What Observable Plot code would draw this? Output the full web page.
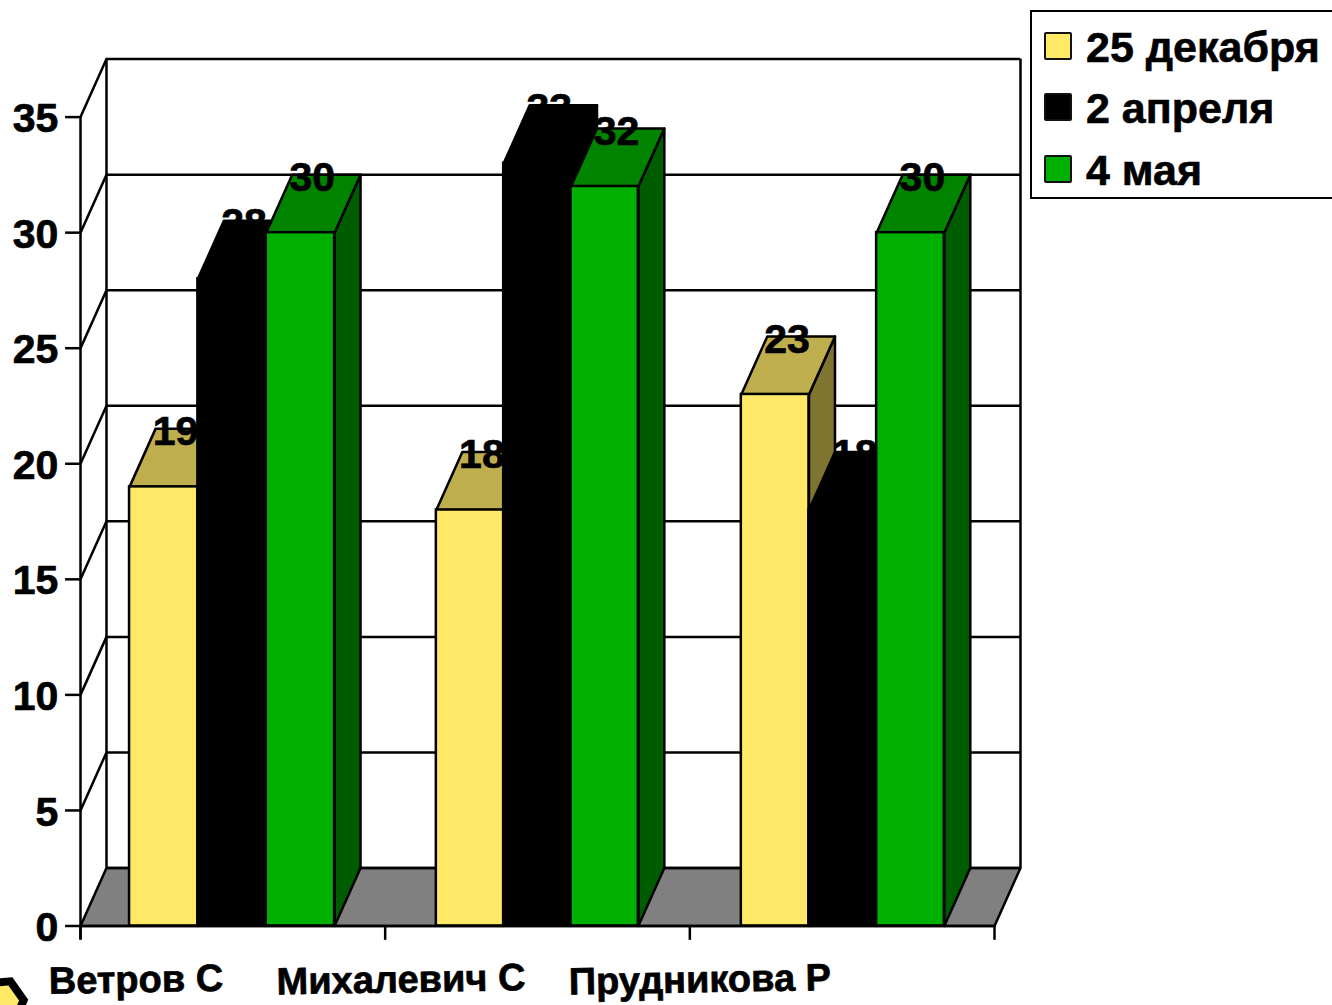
<!DOCTYPE html>
<html lang="ru"><head><meta charset="utf-8">
<script src="https://cdn.jsdelivr.net/npm/d3@7"></script>
<script src="https://cdn.jsdelivr.net/npm/@observablehq/plot@0.6"></script>
<style>
html,body{margin:0;padding:0;background:#fff;overflow:hidden}
#wrap{position:relative;width:1332px;height:1005px}
#wrap svg{display:block;overflow:hidden}
#legend{position:absolute;left:1030px;top:10px;width:300px;height:185px;border:2.5px solid #000;border-right:none;background:#fff;
 font:bold 43px "Liberation Sans",Arial,sans-serif;color:#000;-webkit-text-stroke:.6px #000}
.row{position:absolute;left:0;height:40px;white-space:nowrap}
.sw{position:absolute;left:12px;top:5px;width:24px;height:24px;border:2px solid #111;border-radius:2px}
.lb{position:absolute;left:54px;top:-4px}
</style></head><body>
<div id="wrap"><div id="chart"></div><div id="legend"></div></div>
<script>
const categories = ["Ветров С", "Михалевич С", "Прудникова Р"];
const seriesNames = ["25 декабря", "2 апреля", "4 мая"];
const dec25 = [19, 18, 23];
const apr2 = [28, 33, 18];
const may4 = [30, 32, 30];
const yTicks = [0, 5, 10, 15, 20, 25, 30, 35];
const xTicks = [0, 1, 2, 3];
const groupStart = [0.161, 1.168, 2.169];
const groupBarW = [0.2243, 0.2210, 0.2221];
const labelX = [0.182, 1.052, 2.033];
const series = [dec25, apr2, may4];
const faceColors = ["#FFE966", "#000000", "#00B000"];
const topColors = ["#BFAE4D", "#000000", "#008400"];
const sideColors = ["#807431", "#000000", "#005C00"];

const dX = 0.0853, dY = 2.51, xMax = 3, yMax = 35;
const font = '"Liberation Sans",Arial,sans-serif';
const lineW = 2.5;

const polygon = (points, fill) => Plot.line(points, {
  x: "x", y: "y", fill, stroke: "#000", strokeWidth: lineW, curve: "linear-closed", strokeLinejoin: "round"
});

const boldText = {fontFamily: font, fontWeight: "bold", fill: "#000", stroke: "#000", strokeWidth: 0.7};

const marks = [];
// floor
marks.push(polygon([{x:0,y:0},{x:dX,y:dY},{x:xMax+dX,y:dY},{x:xMax,y:0}], "#808080"));
// back wall grid
marks.push(Plot.ruleY(yTicks, {y: d => d + dY, x1: dX, x2: xMax + dX, stroke: "#000", strokeWidth: lineW}));
// side wall diagonals
yTicks.slice(1).forEach(v => marks.push(Plot.line([{x:0,y:v},{x:dX,y:v+dY}], {x:"x",y:"y",stroke:"#000",strokeWidth:lineW})));
// walls
marks.push(Plot.ruleX([dX, xMax + dX], {y1: dY, y2: yMax + dY, stroke: "#000", strokeWidth: lineW}));
marks.push(Plot.ruleX([0], {y1: -0.6, y2: yMax, stroke: "#000", strokeWidth: lineW}));

// bars
categories.forEach((c, g) => {
  const barW = groupBarW[g];
  series.forEach((vals, s) => {
    const x0 = groupStart[g] + s * barW, x1 = x0 + barW, v = vals[g];
    marks.push(polygon([{x:x1,y:0},{x:x1+dX,y:dY},{x:x1+dX,y:v+dY},{x:x1,y:v}], sideColors[s]));
    marks.push(polygon([{x:x0,y:v},{x:x0+dX,y:v+dY},{x:x1+dX,y:v+dY},{x:x1,y:v}], topColors[s]));
    marks.push(Plot.rect([v], {x1: x0, x2: x1, y1: 0, y2: d => d, fill: faceColors[s], stroke: "#000", strokeWidth: lineW}));
  });
});

// axes
marks.push(Plot.ruleY([0], {x1: 0, x2: xMax, stroke: "#000", strokeWidth: lineW}));
marks.push(Plot.ruleY(yTicks, {x1: -0.049, x2: 0, stroke: "#000", strokeWidth: lineW}));
marks.push(Plot.ruleX(xTicks, {y1: -0.62, y2: 0, stroke: "#000", strokeWidth: lineW}));
marks.push(Plot.text(yTicks, {x: -0.0725, y: d => d, text: d => String(d), textAnchor: "end", ...boldText, fontSize: 41, dy: 2}));
marks.push(Plot.text(categories, {x: (d, i) => labelX[i], y: -2.34, text: d => d, rotate: -1, ...boldText, fontSize: 38}));

// value labels
categories.forEach((c, g) => {
  const barW = groupBarW[g];
  series.forEach((vals, s) => {
    const x = groupStart[g] + (s + 0.5) * barW + 0.039, v = vals[g];
    marks.push(Plot.text([v], {x, y: v + dY - 0.14, text: d => String(d), ...boldText, fontSize: 41}));
  });
});

// corner badge
marks.push(Plot.dot([0], {x: -0.262, y: -3.3, r: 20, symbol: "hexagon", rotate: 25, fill: "#FFE966", stroke: "#000", strokeWidth: 8}));

const plot = Plot.plot({
  width: 1332, height: 1005, margin: 0,
  x: {domain: [0, xMax], range: [80, 994], axis: null},
  y: {domain: [0, yMax], range: [925.5, 116.6], axis: null},
  style: {background: "#fff"},
  marks
});
document.getElementById("chart").append(plot);

const legend = document.getElementById("legend");
const rowTops = [15, 76, 138];
seriesNames.forEach((name, i) => {
  const row = document.createElement("div");
  row.className = "row";
  row.style.top = rowTops[i] + "px";
  row.innerHTML = `<span class="sw" style="background:${faceColors[i]}"></span><span class="lb">${name}</span>`;
  legend.append(row);
});
</script>
</body></html>
